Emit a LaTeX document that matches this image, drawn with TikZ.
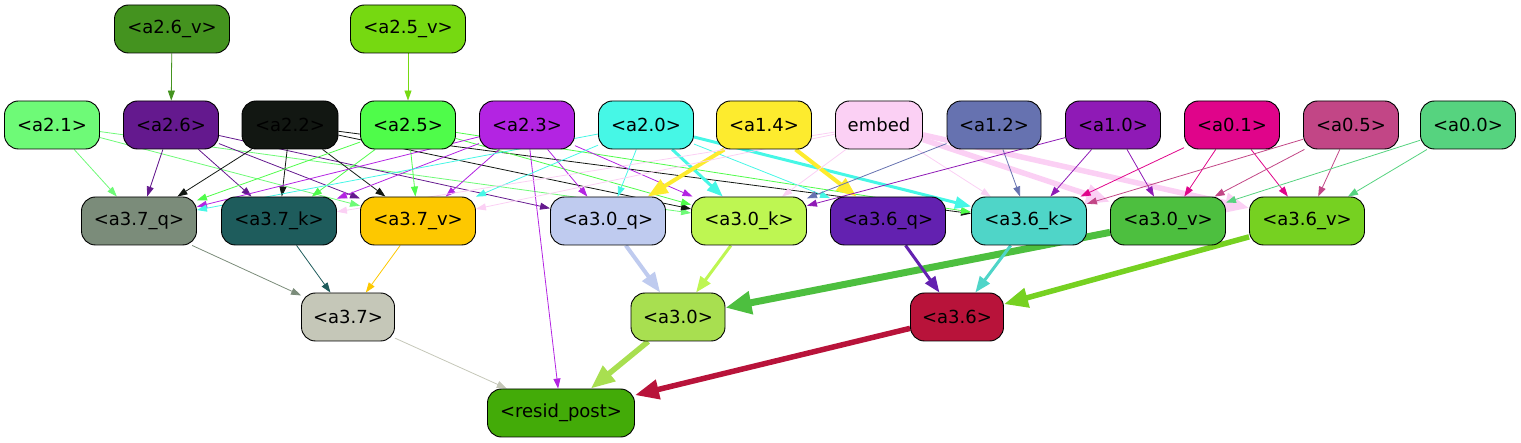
\documentclass[tikz,border=0pt]{standalone}
\usepackage{fontspec}
\setmainfont{DejaVu Sans}
\usetikzlibrary{arrows.meta}
\pgfdeclarelayer{bg}
\pgfsetlayers{bg,main}
\definecolor{c26v}{HTML}{44931F}
\definecolor{c25v}{HTML}{76D911}
\definecolor{c21}{HTML}{6EFA77}
\definecolor{c26}{HTML}{64198E}
\definecolor{c22}{HTML}{121712}
\definecolor{c25}{HTML}{4FFC4A}
\definecolor{c23}{HTML}{B324E2}
\definecolor{c20}{HTML}{46F7E6}
\definecolor{c14}{HTML}{FDEB2E}
\definecolor{cemb}{HTML}{FBD0F4}
\definecolor{c12}{HTML}{6672B0}
\definecolor{c10}{HTML}{8F1AB6}
\definecolor{c01}{HTML}{E0048A}
\definecolor{c05}{HTML}{C24686}
\definecolor{c00}{HTML}{56D37F}
\definecolor{cq37}{HTML}{7B8C7A}
\definecolor{ck37}{HTML}{1E5C5C}
\definecolor{cv37}{HTML}{FDC800}
\definecolor{cq30}{HTML}{BFCBEF}
\definecolor{ck30}{HTML}{BEF652}
\definecolor{cq36}{HTML}{6321B0}
\definecolor{ck36}{HTML}{4FD5C8}
\definecolor{cv30}{HTML}{4DBF3F}
\definecolor{cv36}{HTML}{76D121}
\definecolor{c37}{HTML}{C5C7B8}
\definecolor{c30}{HTML}{A8DF50}
\definecolor{c36}{HTML}{B8133A}
\definecolor{crp}{HTML}{43AB08}
\begin{document}
\begin{tikzpicture}[x=1pt,y=-1pt,
  box/.style={draw=black,line width=0.9pt,rounded corners=14pt,minimum height=48pt,
    inner sep=0pt,font=\fontsize{18}{20}\selectfont,text=black},
  wA/.style={line width=0.8pt,-{Triangle[length=10pt,width=7pt]}},
  wB/.style={line width=3pt,-{Triangle[length=16pt,width=12pt]}},
  wC/.style={line width=4pt,-{Triangle[length=20pt,width=15pt]}},
  wD/.style={line width=5.5pt,-{Triangle[length=24pt,width=19pt]}},
  wE/.style={line width=7pt,-{Triangle[length=26pt,width=22pt]}}]
\useasboundingbox (0,0) rectangle (1521,443);
% row 1
\node[box,fill=c26v,minimum width=115pt] (a26v) at (172,29) {<a2.6\_v>};
\node[box,fill=c25v,minimum width=115pt] (a25v) at (408,29) {<a2.5\_v>};
% row 2
\node[box,fill=c21,minimum width=95pt] (a21) at (52,125) {<a2.1>};
\node[box,fill=c26,minimum width=95pt] (a26) at (171,125) {<a2.6>};
\node[box,fill=c22,minimum width=96pt] (a22) at (290,125) {<a2.2>};
\node[box,fill=c25,minimum width=95pt] (a25) at (408,125) {<a2.5>};
\node[box,fill=c23,minimum width=95pt] (a23) at (527,125) {<a2.3>};
\node[box,fill=c20,minimum width=95pt] (a20) at (646,125) {<a2.0>};
\node[box,fill=c14,minimum width=95pt] (a14) at (764,125) {<a1.4>};
\node[box,fill=cemb,minimum width=87pt] (emb) at (879,125) {embed};
\node[box,fill=c12,minimum width=94pt] (a12) at (994,125) {<a1.2>};
\node[box,fill=c10,minimum width=95pt] (a10) at (1113,125) {<a1.0>};
\node[box,fill=c01,minimum width=95pt] (a01) at (1232,125) {<a0.1>};
\node[box,fill=c05,minimum width=95pt] (a05) at (1351,125) {<a0.5>};
\node[box,fill=c00,minimum width=95pt] (a00) at (1468,125) {<a0.0>};
% row 3
\node[box,fill=cq37,minimum width=115pt] (q37) at (139,221) {<a3.7\_q>};
\node[box,fill=ck37,minimum width=115pt] (k37) at (279,221) {<a3.7\_k>};
\node[box,fill=cv37,minimum width=115pt] (v37) at (418,221) {<a3.7\_v>};
\node[box,fill=cq30,minimum width=115pt] (q30) at (608,221) {<a3.0\_q>};
\node[box,fill=ck30,minimum width=115pt] (k30) at (749,221) {<a3.0\_k>};
\node[box,fill=cq36,minimum width=115pt] (q36) at (888,221) {<a3.6\_q>};
\node[box,fill=ck36,minimum width=115pt] (k36) at (1029,221) {<a3.6\_k>};
\node[box,fill=cv30,minimum width=115pt] (v30) at (1168,221) {<a3.0\_v>};
\node[box,fill=cv36,minimum width=115pt] (v36) at (1307,221) {<a3.6\_v>};
% row 4
\node[box,fill=c37,minimum width=93pt] (a37) at (348,317) {<a3.7>};
\node[box,fill=c30,minimum width=94pt] (a30) at (678,317) {<a3.0>};
\node[box,fill=c36,minimum width=93pt] (a36) at (957,317) {<a3.6>};
\node[box,fill=crp,minimum width=147pt] (rp) at (561,413) {<resid\_post>};
\begin{pgfonlayer}{bg}
\draw[wA,c26v] (a26v) -- (a26);
\draw[wA,c25v] (a25v) -- (a25);
\foreach \t in {q37,v37,k30} \draw[wA,c21] (a21) -- (\t);
\foreach \t in {q37,k37,v37,q30} \draw[wA,c26] (a26) -- (\t);
\foreach \t in {q37,k37,v37,k30,k36} \draw[wA,c22] (a22) -- (\t);
\foreach \t in {q37,k37,v37,k30,k36} \draw[wA,c25] (a25) -- (\t);
\foreach \t in {q37,k37,v37,q30,k30,rp} \draw[wA,c23] (a23) -- (\t);
\foreach \t in {q37,v37,q30,q36} \draw[wA,c20] (a20) -- (\t);
\draw[wB,c20] (a20) -- (k30);
\draw[wB,c20] (a20) -- (k36);
\draw[wC,c14] (a14) -- (q30);
\draw[wC,c14] (a14) -- (q36);
\foreach \t in {k37,v37,k30,k36} \draw[wA,cemb] (emb) -- (\t);
\draw[wD,cemb] (emb) -- (v30);
\draw[wD,cemb] (emb) -- (v36);
\foreach \t in {k30,k36} \draw[wA,c12] (a12) -- (\t);
\foreach \t in {k30,k36,v30} \draw[wA,c10] (a10) -- (\t);
\foreach \t in {k36,v30,v36} \draw[wA,c01] (a01) -- (\t);
\foreach \t in {k36,v30,v36} \draw[wA,c05] (a05) -- (\t);
\foreach \t in {v30,v36} \draw[wA,c00] (a00) -- (\t);
\draw[wA,cq37] (q37) -- (a37);
\draw[wA,ck37] (k37) -- (a37);
\draw[wA,cv37] (v37) -- (a37);
\draw[wC,cq30] (q30) -- (a30);
\draw[wB,ck30] (k30) -- (a30);
\draw[wE,cv30] (v30) -- (a30);
\draw[wB,cq36] (q36) -- (a36);
\draw[wB,ck36] (k36) -- (a36);
\draw[wD,cv36] (v36) -- (a36);
\draw[wA,c37] (a37) -- (rp);
\draw[wD,c30] (a30) -- (rp);
\draw[wD,c36] (a36) -- (rp);
\end{pgfonlayer}
\end{tikzpicture}
\end{document}
